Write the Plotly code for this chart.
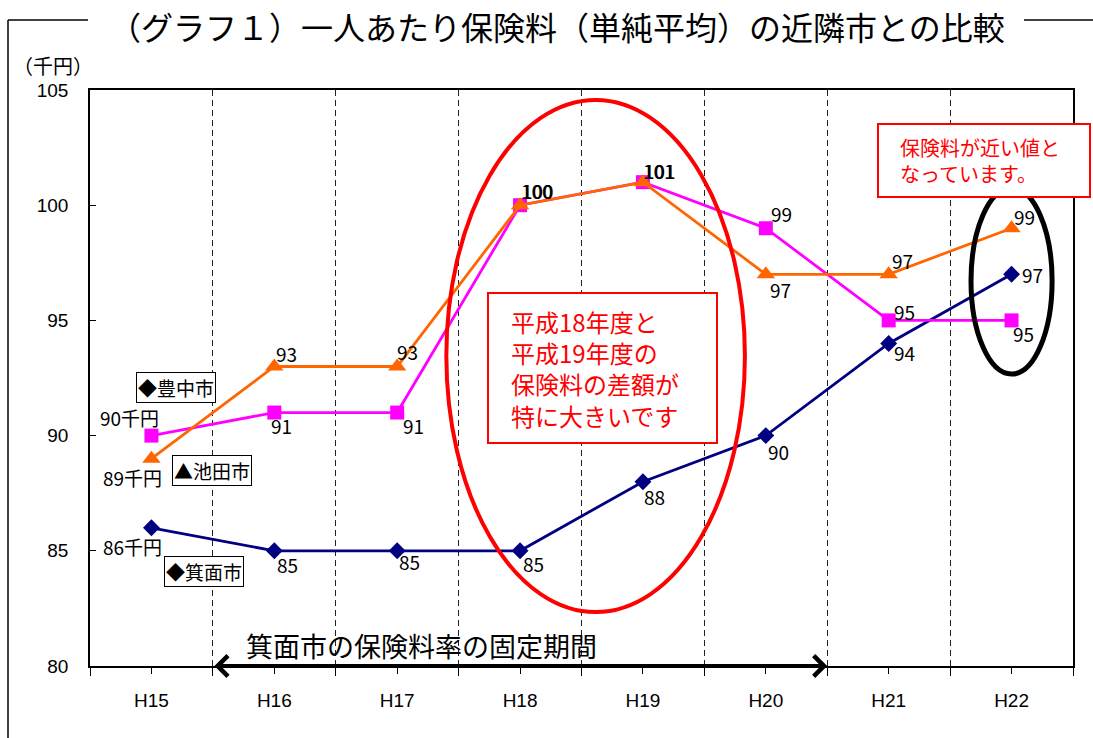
import plotly.graph_objects as go

# ---- data -------------------------------------------------------------
years = ["H15", "H16", "H17", "H18", "H19", "H20", "H21", "H22"]
toyonaka = [90, 91, 91, 100, 101, 99, 95, 95]   # 豊中市
ikeda = [89, 93, 93, 100, 101, 97, 97, 99]      # 池田市
minoh = [86, 85, 85, 85, 88, 90, 94, 97]        # 箕面市
y_ticks = [80, 85, 90, 95, 100, 105]

# value-label offsets (pixels) for each point
toyonaka_off = [(-22, 18), (7, -13), (16, -13), (18, 15), (17, 12), (16, 15), (16, 9), (12, -13)]
ikeda_off = [(-19, -19), (12, 13), (10, 15), (17, 15), (16, 12), (15, -15), (14, 14), (13, 12)]
minoh_off = [(-19, -19), (13, -14), (12, -11), (13, -13), (12, -15), (13, -16), (16, -9), (21, 0)]

# ---- layout geometry --------------------------------------------------
W, H = 1093, 738
ML, MR, MT, MB = 90, 20, 90, 72
PW, PH = W - ML - MR, H - MT - MB
FONT = "Noto Sans CJK JP"
NUM_FONT = "Liberation Sans"


def px_x(p):
    return (p - ML) / PW


def px_y(p):
    return (H - MB - p) / PH


def paper_text(text, x, y, size, color="black", xanchor="center", **kw):
    return dict(xref="paper", yref="paper", x=px_x(x), y=px_y(y), text=text,
                showarrow=False, xanchor=xanchor, yanchor="middle",
                font=dict(family=FONT, size=size, color=color), **kw)


xs = list(range(len(years)))

fig = go.Figure()

# drawing order: 箕面市, 豊中市, then 池田市 on top
series = [
    ("箕面市", minoh, "#000080", "diamond", 13, minoh_off),
    ("豊中市", toyonaka, "#FF00FF", "square", 14, toyonaka_off),
    ("池田市", ikeda, "#FF6600", "triangle-up", 16, ikeda_off),
]

annotations = []
for name, vals, color, sym, msize, offs in series:
    fig.add_trace(go.Scatter(
        x=xs, y=vals, name=name, mode="lines+markers",
        line=dict(color=color, width=2.8),
        marker=dict(symbol=sym, size=msize, color=color),
        showlegend=False, hoverinfo="skip",
    ))
    for i, v in enumerate(vals):
        txt = f"{v}千円" if i == 0 else str(v)
        annotations.append(dict(
            x=xs[i], y=v, text=txt, showarrow=False,
            xanchor="center", yanchor="middle",
            xshift=offs[i][0], yshift=offs[i][1],
            font=dict(family=FONT, size=19, color="black"),
        ))

# series name tags
for txt, cx, cy in [("◆豊中市", 176, 387), ("▲池田市", 212, 470), ("◆箕面市", 204, 571)]:
    annotations.append(paper_text(txt, cx, cy, 19, bgcolor="white", bordercolor="black",
                                  borderwidth=1, borderpad=1))

# title and unit
annotations.append(paper_text("（グラフ１）一人あたり保険料（単純平均）の近隣市との比較", 557, 26, 32))
annotations.append(paper_text("（千円）", 53, 65, 20))

# fixed-rate period arrow
annotations.append(dict(
    x=5.5, y=80, ax=0.5, ay=80, axref="x", ayref="y", xref="x", yref="y",
    text="", showarrow=True, arrowhead=4, startarrowhead=4, arrowside="end+start",
    arrowwidth=4, arrowsize=1, startarrowsize=1, arrowcolor="black",
))
annotations.append(paper_text("箕面市の保険料率の固定期間", 244, 645, 27, xanchor="left"))

# red callout texts
annotations.append(paper_text("平成18年度と<br>平成19年度の<br>保険料の差額が<br>特に大きいです",
                              509, 368, 24, color="#FF0000", xanchor="left", align="left"))
annotations.append(paper_text("保険料が近い値と<br>なっています。",
                              898, 161, 20, color="#FF0000", xanchor="left", align="left"))

shapes = [
    # outer frame around the whole figure
    dict(type="line", xref="paper", yref="paper", x0=px_x(8), x1=px_x(88),
         y0=px_y(20), y1=px_y(20), line=dict(color="black", width=1.5)),
    dict(type="line", xref="paper", yref="paper", x0=px_x(1024), x1=px_x(1093),
         y0=px_y(20), y1=px_y(20), line=dict(color="black", width=1.5)),
    dict(type="line", xref="paper", yref="paper", x0=px_x(8), x1=px_x(8),
         y0=px_y(20), y1=px_y(738), line=dict(color="black", width=1.5)),
    # highlight ellipses
    dict(type="circle", xref="x", yref="y", x0=2.40, x1=4.83, y0=82.34, y1=104.57,
         line=dict(color="#FF0000", width=4), layer="above"),
    dict(type="circle", xref="x", yref="y", x0=6.67, x1=7.33, y0=92.67, y1=100.75,
         line=dict(color="black", width=5), layer="above"),
    # callout boxes
    dict(type="rect", xref="paper", yref="paper", x0=px_x(488), x1=px_x(717),
         y0=px_y(443), y1=px_y(293), fillcolor="white",
         line=dict(color="#FF0000", width=2), layer="above"),
    dict(type="rect", xref="paper", yref="paper", x0=px_x(878), x1=px_x(1090),
         y0=px_y(197), y1=px_y(124), fillcolor="white",
         line=dict(color="#FF0000", width=2), layer="above"),
]

fig.update_layout(
    width=W, height=H,
    margin=dict(l=ML, r=MR, t=MT, b=MB, pad=0),
    paper_bgcolor="white", plot_bgcolor="white",
    font=dict(family=FONT, color="black"),
    annotations=annotations, shapes=shapes,
    xaxis=dict(
        range=[-0.5, len(years) - 0.5], tickmode="array", tickvals=xs, ticktext=years,
        showgrid=False, zeroline=False, showline=True, mirror=True,
        linecolor="black", linewidth=1.5,
        ticks="outside", ticklen=6, tickcolor="black",
        ticklabelstandoff=10,
        tickfont=dict(family=NUM_FONT, size=19, color="black"),
        minor=dict(tickmode="array", tickvals=[i + 0.5 for i in range(-1, len(years))],
                   ticks="outside", ticklen=8, tickcolor="black",
                   showgrid=True, gridcolor="#222222", gridwidth=1, griddash="6px,4px"),
    ),
    yaxis=dict(
        range=[80, 105], tickmode="array", tickvals=y_ticks,
        showgrid=False, zeroline=False, showline=True, mirror=True,
        linecolor="black", linewidth=1.5,
        ticks="inside", ticklen=6, tickcolor="black",
        ticklabelstandoff=16,
        tickfont=dict(family=NUM_FONT, size=19, color="black"),
    ),
)

fig.write_html("out.html")
